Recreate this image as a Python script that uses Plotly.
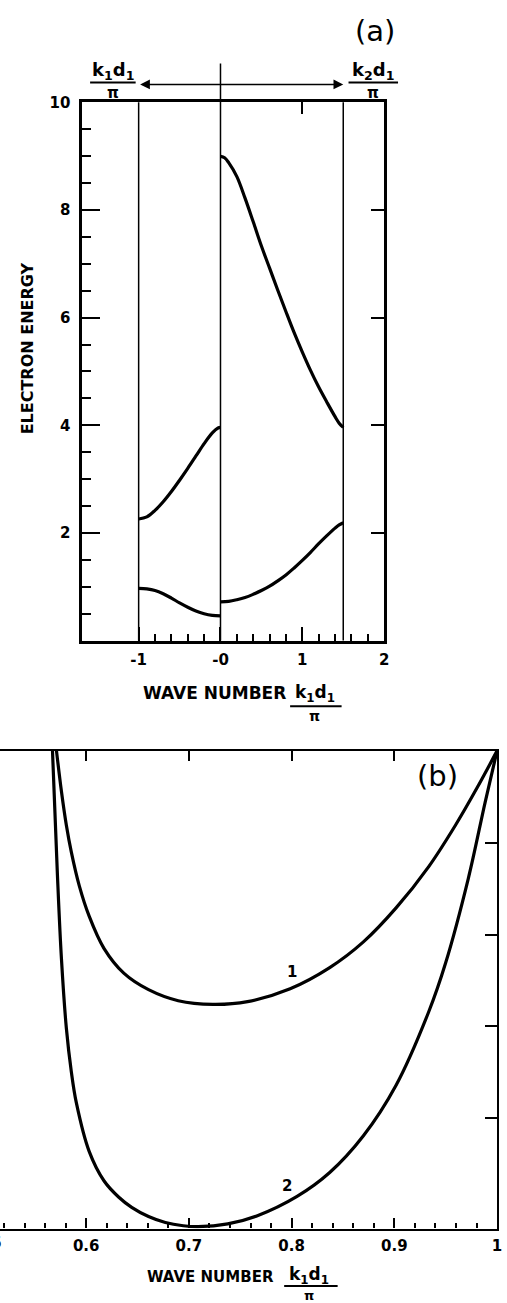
import plotly.graph_objects as go

W, H = 507, 1303
FONT = "DejaVu Sans"

# ---------------- Panel (a) data ----------------
band1_left_k = [-1.0, -0.9, -0.8, -0.7, -0.6, -0.5, -0.4, -0.3, -0.2, -0.1, 0.0]
band1_left_E = [0.97, 0.96, 0.93, 0.87, 0.79, 0.70, 0.62, 0.55, 0.50, 0.47, 0.46]
band2_left_k = [-1.0, -0.9, -0.8, -0.7, -0.6, -0.5, -0.4, -0.3, -0.2, -0.1, -0.03, 0.0]
band2_left_E = [2.26, 2.30, 2.42, 2.58, 2.77, 2.98, 3.20, 3.43, 3.66, 3.86, 3.95, 3.96]
band1_right_k = [0.0, 0.1, 0.2, 0.3, 0.4, 0.5, 0.6, 0.7, 0.8, 0.9, 1.0, 1.1, 1.2, 1.3, 1.4, 1.45, 1.5]
band1_right_E = [0.72, 0.73, 0.76, 0.80, 0.86, 0.93, 1.01, 1.11, 1.22, 1.35, 1.49, 1.64, 1.80,
                 1.95, 2.09, 2.15, 2.19]
band2_right_k = [0.0, 0.05, 0.1, 0.2, 0.3, 0.4, 0.5, 0.6, 0.7, 0.8, 0.9, 1.0, 1.1, 1.2, 1.3,
                 1.4, 1.45, 1.5]
band2_right_E = [9.0, 8.97, 8.88, 8.62, 8.22, 7.78, 7.33, 6.92, 6.51, 6.11, 5.72, 5.36, 5.02,
                 4.71, 4.43, 4.16, 4.04, 3.96]
zone_edges = [-1.0, 0.0, 1.5]

a_xticks = [-1, 0, 1, 2]
a_xticktext = ["-1", "-0", "1", "2"]
a_xminor = [-0.8, -0.6, -0.4, -0.2, 0.2, 0.4, 0.6, 0.8, 1.2, 1.4, 1.6, 1.8]
a_yticks = [2, 4, 6, 8, 10]
a_yminor = [0.5, 1, 1.5, 2.5, 3, 3.5, 4.5, 5, 5.5, 6.5, 7, 7.5, 8.5, 9, 9.5]

# ---------------- Panel (b) data ----------------
curve1_k = [0.5711, 0.5759, 0.5807, 0.5855, 0.5933, 0.6029, 0.6173, 0.6366, 0.6607, 0.6896,
            0.7234, 0.7571, 0.7986, 0.8371, 0.8699, 0.9017, 0.9335, 0.9595, 0.9807, 1.0]
curve1_v = [5.20, 4.76, 4.39, 4.10, 3.73, 3.40, 3.05, 2.78, 2.60, 2.48,
            2.44, 2.47, 2.61, 2.84, 3.12, 3.49, 3.94, 4.39, 4.80, 5.20]
curve2_k = [0.5672, 0.5720, 0.5759, 0.5807, 0.5855, 0.5904, 0.6029, 0.6173, 0.6318, 0.6443,
            0.6607, 0.6771, 0.6945, 0.7089, 0.7378, 0.7667, 0.8053, 0.8371, 0.8699, 0.9017,
            0.9335, 0.9499, 0.9720, 0.9884, 1.0]
curve2_v = [5.20, 3.85, 2.94, 2.18, 1.71, 1.37, 0.84, 0.52, 0.34, 0.23,
            0.13, 0.065, 0.03, 0.02, 0.05, 0.14, 0.35, 0.61, 1.01, 1.56,
            2.36, 2.89, 3.81, 4.64, 5.20]
b_xticks = [0.6, 0.7, 0.8, 0.9, 1.0]
b_xticktext = ["0.6", "0.7", "0.8", "0.9", "1"]
b_yticks_right = [1.2, 2.2, 3.2, 4.2]


def px(p):
    return p / W


def py(p):
    return 1 - p / H


fig = go.Figure()
line = dict(color="black", width=3.2, shape="spline", smoothing=1.0)
for kk, ee in [(band1_left_k, band1_left_E), (band2_left_k, band2_left_E),
               (band1_right_k, band1_right_E), (band2_right_k, band2_right_E)]:
    fig.add_trace(go.Scatter(x=kk, y=ee, mode="lines", line=line,
                             xaxis="x", yaxis="y", showlegend=False, hoverinfo="skip"))
for kk, vv in [(curve1_k, curve1_v), (curve2_k, curve2_v)]:
    fig.add_trace(go.Scatter(x=kk, y=vv, mode="lines", line=line,
                             xaxis="x2", yaxis="y2", showlegend=False, hoverinfo="skip"))
# empty traces so that the top / right frame axes get drawn
fig.add_trace(go.Scatter(x=[None], y=[None], xaxis="x3", yaxis="y3", showlegend=False))
fig.add_trace(go.Scatter(x=[None], y=[None], xaxis="x4", yaxis="y4", showlegend=False))

tickfont = dict(family=FONT, size=15, color="black", weight="bold")
dom_ax = [px(83), px(388)]
dom_ay = [py(636), py(94)]
dom_bx = [0, px(502)]
dom_by = [py(1228), py(747)]
a_xrange = [-1.69, 2]
b_xrange = [0.5161, 1]

common = dict(showgrid=False, zeroline=False, linecolor="black", tickcolor="black", fixedrange=True)

fig.update_layout(
    width=W, height=H, autosize=False,
    margin=dict(l=0, r=0, t=0, b=0),
    paper_bgcolor="white", plot_bgcolor="white",
    showlegend=False,
    xaxis=dict(domain=dom_ax, range=a_xrange, anchor="y", showline=True, linewidth=2.5,
               ticks="inside", ticklen=14, tickwidth=1.5, tickvals=a_xticks, ticktext=a_xticktext,
               tickfont=tickfont, ticklabelstandoff=4,
               minor=dict(ticks="inside", ticklen=7, tickwidth=1.5, tickmode="array",
                          tickvals=a_xminor, tickcolor="black"), **common),
    yaxis=dict(domain=dom_ay, range=[0, 10], anchor="x", showline=True, linewidth=2.5,
               ticks="inside", ticklen=18, tickwidth=1.5, tickvals=a_yticks,
               tickfont=tickfont, ticklabelstandoff=6,
               minor=dict(ticks="inside", ticklen=9, tickwidth=1.5, tickmode="array",
                          tickvals=a_yminor, tickcolor="black"), **common),
    xaxis3=dict(overlaying="x", anchor="y", side="top", range=a_xrange, showline=True,
                linewidth=2.5, ticks="inside", ticklen=12, tickwidth=1.5, tickvals=[1],
                showticklabels=False, **common),
    yaxis3=dict(overlaying="y", anchor="x", side="right", range=[0, 10], showline=True,
                linewidth=2.5, ticks="inside", ticklen=13, tickwidth=1.5, tickvals=a_yticks[:-1],
                showticklabels=False, **common),
    xaxis2=dict(domain=dom_bx, range=b_xrange, anchor="y2", showline=True, linewidth=2.2,
                ticks="inside", ticklen=10, tickwidth=1.5, tickvals=b_xticks, ticktext=b_xticktext,
                tickfont=tickfont, ticklabelstandoff=2,
                minor=dict(ticks="inside", ticklen=5, tickwidth=1.5, tick0=0.5, dtick=0.02,
                           tickcolor="black"), **common),
    yaxis2=dict(domain=dom_by, range=[0, 5.2], anchor="x2", visible=False, **common),
    xaxis4=dict(overlaying="x2", anchor="y2", side="top", range=b_xrange, showline=True,
                linewidth=2.2, ticks="inside", ticklen=10, tickwidth=1.5, tickvals=b_xticks[:-1],
                showticklabels=False, **common),
    yaxis4=dict(overlaying="y2", anchor="x2", side="right", range=[0, 5.2], showline=True,
                linewidth=2.2, ticks="inside", ticklen=12, tickwidth=1.5, tickvals=b_yticks_right,
                showticklabels=False, **common),
)

# zone boundary lines in panel (a)
for e in zone_edges:
    top = py(55) if e == 0 else dom_ay[1]
    fig.add_shape(type="line", xref="x", yref="paper", x0=e, x1=e, y0=dom_ay[0], y1=top,
                  line=dict(color="black", width=1.5))

# double arrow above panel (a)
fig.add_annotation(x=zone_edges[2], y=py(76), xref="x", yref="paper",
                   ax=zone_edges[0], ay=0, axref="x", ayref="pixel",
                   text="", showarrow=True, arrowhead=2, arrowside="end+start",
                   arrowsize=1.3, arrowwidth=1.5, arrowcolor="black")


def text(x, y, s, size, bold=True, angle=0):
    fig.add_annotation(x=px(x), y=py(y), xref="paper", yref="paper", text=s, showarrow=False,
                       xanchor="center", yanchor="middle", textangle=angle,
                       font=dict(family=FONT, size=size, color="black",
                                 weight="bold" if bold else "normal"))


def fraction(cx, ytop, x0, x1, ybar, ypi, num, size, pisize):
    text(cx, ytop, num, size)
    fig.add_shape(type="line", xref="paper", yref="paper", x0=px(x0), x1=px(x1),
                  y0=py(ybar), y1=py(ybar), line=dict(color="black", width=2))
    text(cx, ypi, "π", pisize)


K1D1 = "k<sub>1</sub>d<sub>1</sub>"
K2D1 = "k<sub>2</sub>d<sub>1</sub>"

text(379, 22, "(a)", 29, bold=False)
fraction(114, 62, 91, 137, 74, 85, K1D1, 18, 15)
fraction(377, 62, 352, 402, 74, 85, K2D1, 18, 15)
text(28, 342, "ELECTRON ENERGY", 16, angle=-90)
text(217, 689, "WAVE NUMBER", 17)
fraction(318, 689, 293, 345, 702, 712, K1D1, 17, 14)

text(442, 772, "(b)", 29, bold=False)
fig.add_annotation(x=0.8005, y=2.79, xref="x2", yref="y2", text="1", showarrow=False,
                   font=dict(family=FONT, size=15, color="black", weight="bold"))
fig.add_annotation(x=0.7957, y=0.46, xref="x2", yref="y2", text="2", showarrow=False,
                   font=dict(family=FONT, size=15, color="black", weight="bold"))
text(-12, 1243, "0.5", 15)
text(213, 1277, "WAVE NUMBER", 15)
fraction(312, 1275, 287, 341, 1286, 1295, K1D1, 17, 13)

fig.write_html("out.html", config={"displayModeBar": False},
               post_script="document.body.style.margin='0px';")
